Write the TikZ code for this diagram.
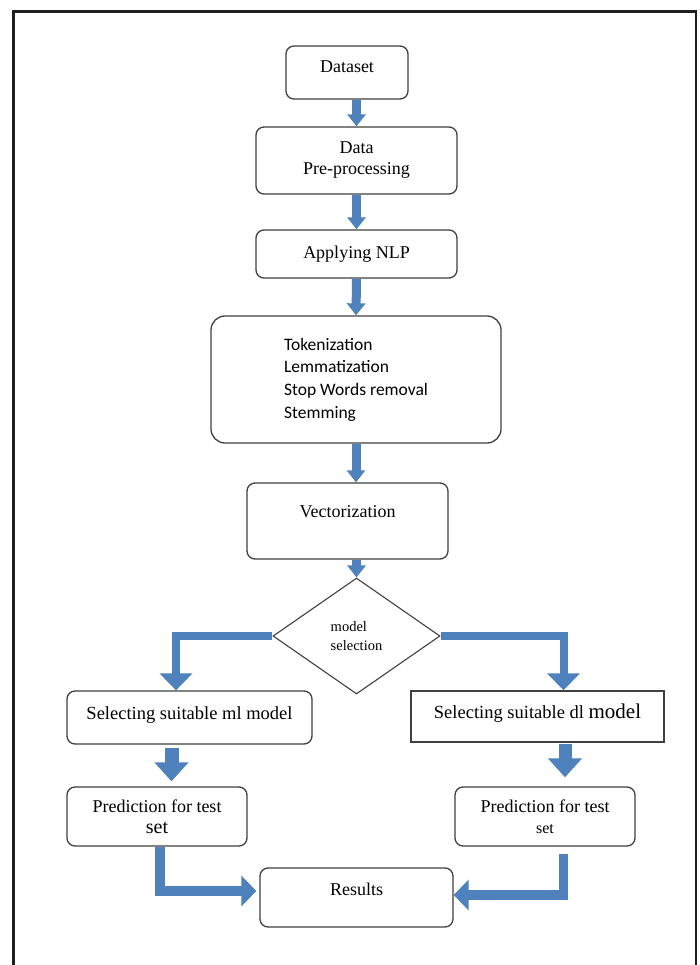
\documentclass[tikz,border=0pt]{standalone}
\usepackage{fontspec}
\setmainfont{Liberation Serif}
\newfontfamily\calfont{Carlito}
\usetikzlibrary{shapes.geometric,arrows.meta}
\definecolor{flowblue}{RGB}{79,129,189}
\definecolor{boxline}{RGB}{64,64,64}
\begin{document}
\begin{tikzpicture}[x=1pt,y=-1pt,
  font=\fontsize{18pt}{21pt}\selectfont,
  box/.style={draw=boxline, line width=1.3pt, rounded corners=8pt, fill=white, inner sep=2pt, align=center},
  sqbox/.style={draw=boxline, line width=1.5pt, fill=white, inner sep=2pt, align=center},
  arr/.style={draw=flowblue, line width=9pt, -{Triangle[width=18pt,length=12pt]}},
  arrwide/.style={draw=flowblue, line width=8pt, -{Triangle[width=32pt,length=17pt]}},
  arrbig/.style={draw=flowblue, line width=14pt, -{Triangle[width=33pt,length=19pt]}},
  arrside/.style={draw=flowblue, line width=9.5pt, -{Triangle[width=30pt,length=15pt]}}
]
\useasboundingbox (0,0) rectangle (699,965);
\fill[white] (0,0) rectangle (699,965);
% outer frame (open at the bottom)
\draw[line width=2.6pt, black!88] (13.5,980) -- (13.5,11.5) -- (696,11.5) -- (696,980);

\node[box, minimum width=122pt, minimum height=53pt, text height=12pt, text depth=11pt] (dataset) at (347,72.5) {Dataset};
\node[box, minimum width=201pt, minimum height=67pt] (pre) at (356.5,160.5) {Data\\Pre-processing};
\node[box, minimum width=201pt, minimum height=48pt] (nlp) at (356.5,254) {Applying NLP};
\node[box, rounded corners=14pt, minimum width=290pt, minimum height=127pt, align=left,
      font=\calfont\fontsize{17.5pt}{22.7pt}\selectfont] (tok) at (356,379.5)
      {Tokenization\\Lemmatization\\Stop Words removal\\Stemming};
\node[box, minimum width=201pt, minimum height=76pt, text height=12pt, text depth=20pt] (vec) at (347.5,521) {Vectorization};
\node[diamond, draw=boxline, line width=1.1pt, fill=white, minimum width=167pt, minimum height=116pt, inner sep=0pt,
      align=left, font=\fontsize{14.5pt}{19pt}\selectfont] (dia) at (356.5,636) {model\\selection};
\node[box, minimum width=245pt, minimum height=53pt, text height=12pt, text depth=9pt,
      font=\fontsize{18.5pt}{21pt}\selectfont] (ml) at (189.5,717.5) {Selecting suitable ml model};
\node[sqbox, minimum width=253pt, minimum height=51pt, text height=13pt, text depth=10pt,
      font=\fontsize{18.5pt}{21pt}\selectfont] (dl) at (537.5,716.5) {Selecting suitable dl {\fontsize{21pt}{21pt}\selectfont model}};
\node[box, minimum width=180pt, minimum height=59pt] (predL) at (157,816.5) {Prediction for test\\{\fontsize{20pt}{21pt}\selectfont set}};
\node[box, minimum width=180pt, minimum height=59pt] (predR) at (545,816.5) {Prediction for test\\{\fontsize{16pt}{21pt}\selectfont set}};
\node[box, minimum width=193pt, minimum height=59pt, text height=12pt, text depth=17pt] (res) at (356.5,897.5) {Results};

% connectors
\draw[arr] (dataset.south -| pre.north) -- (pre.north);
\draw[arr] (pre.south) -- (nlp.north);
\draw[arr] (nlp.south) -- (tok.north);
\draw[arr] (tok.south) -- (tok.south |- vec.north);
\draw[arr] (vec.south -| dia.north) -- (dia.north);
\draw[arrwide] (dia.west) -| ([xshift=-13.5pt]ml.north);
\draw[arrwide] (dia.east) -| ([xshift=26pt]dl.north);
\draw[arrbig, shorten <=3pt, shorten >=5pt] ([xshift=-18pt]ml.south) -- ([xshift=14.5pt]predL.north);
\draw[arrbig, line width=13pt, shorten <=1pt, shorten >=9pt] ([xshift=27.5pt]dl.south) -- ([xshift=20pt]predR.north);
\draw[arrside, shorten >=3pt] ([xshift=3pt]predL.south) |- ([yshift=6.5pt]res.west);
\draw[arrside, shorten <=7pt] ([xshift=18.5pt]predR.south) |- ([yshift=2.5pt]res.east);
\end{tikzpicture}
\end{document}
